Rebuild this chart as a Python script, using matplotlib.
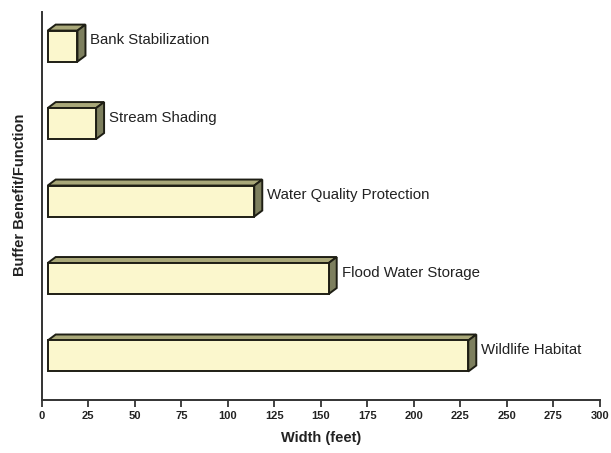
import matplotlib
matplotlib.use("Agg")
import matplotlib.pyplot as plt
from matplotlib.patches import Polygon

plt.rcParams['font.family'] = ['Liberation Sans', 'DejaVu Sans']

# Buffer functions (top to bottom) and the recommended width in feet
functions = ["Bank Stabilization", "Stream Shading", "Water Quality Protection",
             "Flood Water Storage", "Wildlife Habitat"]
widths = [16, 26, 111, 151, 226]
tick_values = [0, 25, 50, 75, 100, 125, 150, 175, 200, 225, 250, 275, 300]

W, H = 611, 453
fig = plt.figure(figsize=(W / 100, H / 100), dpi=100)
ax = fig.add_axes([41.7 / W, 53 / H, (600 - 41.7) / W, (441 - 53) / H])

ax.set_xlim(0, 300)
ax.set_ylim(-0.568, 4.44)

ax.set_xticks(tick_values)
ax.set_xticklabels([str(v) for v in tick_values], fontsize=8, fontweight='bold', color='#222222')
ax.tick_params(axis='x', direction='out', length=5, width=1.3, color='#333333', pad=3)
ax.set_yticks([])
for side in ('top', 'right'):
    ax.spines[side].set_visible(False)
for side in ('left', 'bottom'):
    ax.spines[side].set_linewidth(1.4)
    ax.spines[side].set_color('#333333')

ax.set_xlabel("Width (feet)", fontsize=10.5, fontweight='bold', labelpad=7, color='#222222')
fig.text(20 / W, 1 - 195 / H, "Buffer Benefit/Function", rotation=90,
         fontsize=10.5, fontweight='bold', ha='center', va='center', color='#222222')

front_col = '#FBF7CD'
top_col = '#A9A879'
side_col = '#7D7F5E'
edge = '#1E1E14'

shift = 6.0          # front face offset from the axis, pixels
dx, dy = 8.0, 6.0    # oblique depth of each box, pixels
half_h = 0.2         # half height of the front face, data units

n = len(functions)
fig.canvas.draw()
for i, (name, val) in enumerate(zip(functions, widths)):
    yc = n - 1 - i
    (x0, y0) = ax.transData.transform((0, yc - half_h))
    (x1, y1) = ax.transData.transform((val, yc + half_h))
    x0 += shift
    x1 += shift
    front = [(x0, y0), (x1, y0), (x1, y1), (x0, y1)]
    top = [(x0, y1), (x1, y1), (x1 + dx, y1 + dy), (x0 + dx, y1 + dy)]
    side = [(x1, y0), (x1 + dx, y0 + dy), (x1 + dx, y1 + dy), (x1, y1)]
    for verts, col in ((top, top_col), (side, side_col), (front, front_col)):
        fig.add_artist(Polygon(verts, closed=True, facecolor=col, edgecolor=edge,
                               linewidth=1.4, transform=None, joinstyle='miter'))
    fig.text((x1 + dx + 5) / W, ((y0 + y1) / 2 + dy) / H, name,
             fontsize=10.8, ha='left', va='center', color='#222222')

fig.savefig("out.png", dpi=100)
